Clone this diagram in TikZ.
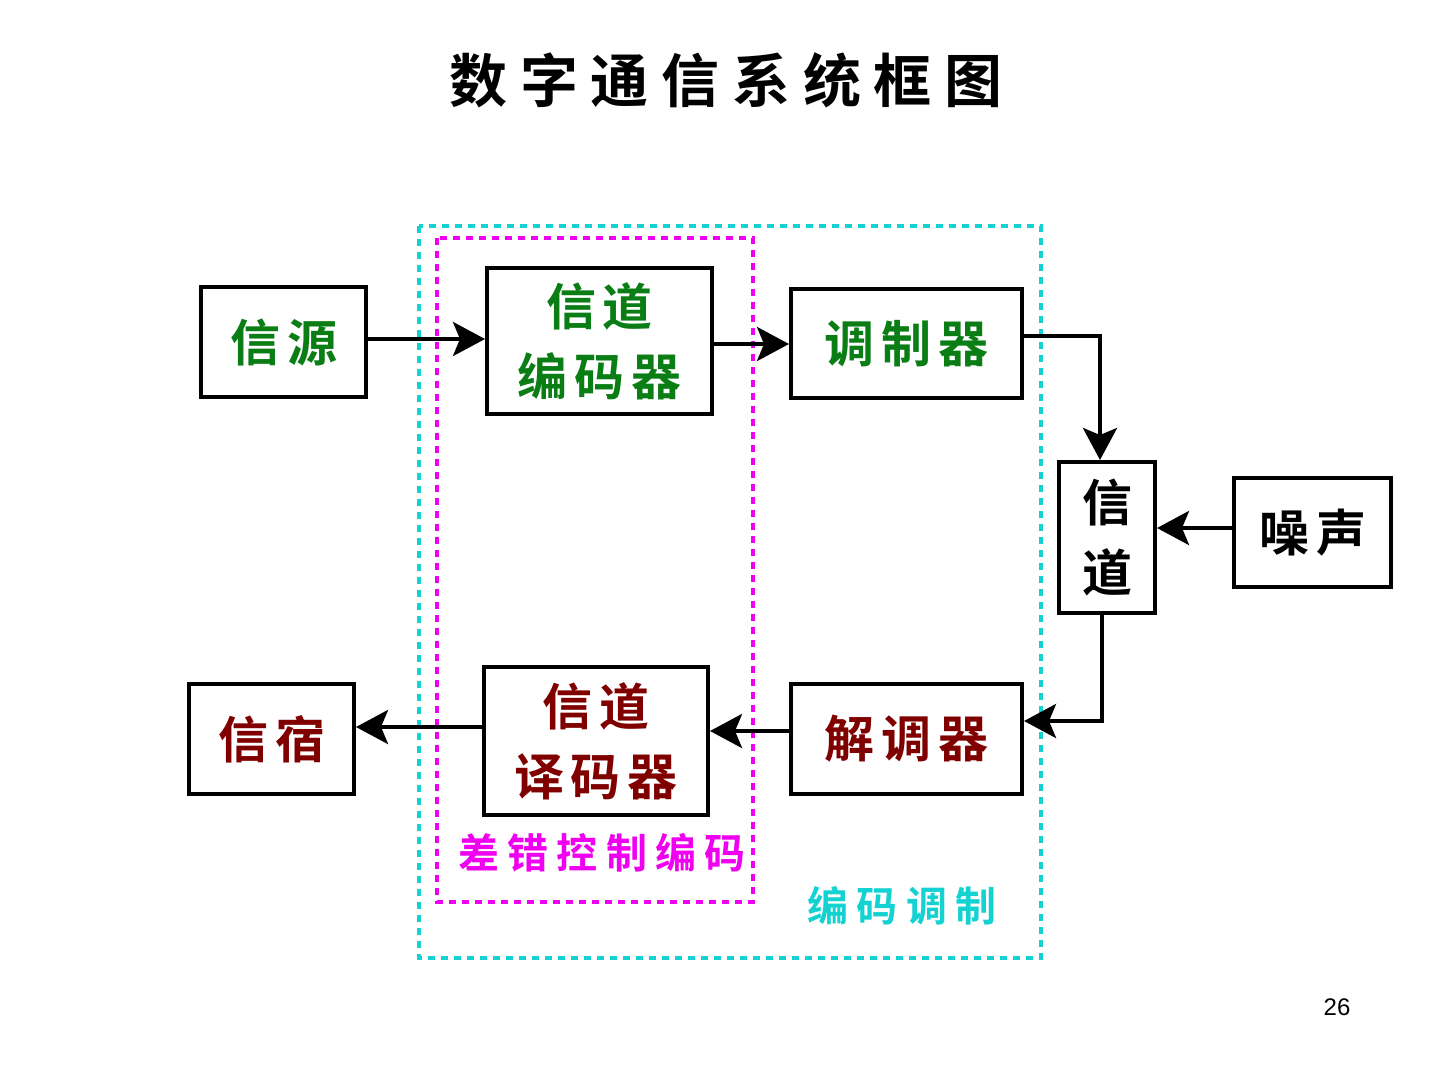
\documentclass[tikz,border=0pt]{standalone}
\usepackage{fontspec}
\usetikzlibrary{arrows.meta}
\newfontfamily\cjkls[LetterSpace=20]{Noto Sans CJK SC Bold}
\newfontfamily\cjkbs[LetterSpace=14]{Noto Sans CJK SC Bold}
\newfontfamily\titlefont[LetterSpace=22]{Noto Sans CJK SC Bold}
\setmainfont{Liberation Sans}
\definecolor{tgreen}{RGB}{10,125,20}
\definecolor{tred}{RGB}{128,0,0}
\definecolor{tcyan}{RGB}{20,210,210}
\definecolor{tmag}{RGB}{240,0,240}
\begin{document}
\begin{tikzpicture}[x=1pt,y=-1pt,
  blk/.style={draw=black,line width=4pt,rectangle,inner sep=0pt,align=center,
    font=\cjkbs\fontsize{50}{70}\selectfont},
  conn/.style={line width=4pt,-{Stealth[length=32pt,width=34pt,inset=7pt]}},
  dashbox/.style={line width=4pt,dash pattern=on 7pt off 6pt},
  grplabel/.style={font=\cjkls\fontsize{41}{44}\selectfont}]
\useasboundingbox (0,0) rectangle (1440,1080);
\fill[white] (0,0) rectangle (1440,1080);

\node[font=\titlefont\fontsize{58}{64}\selectfont] (title) at (726,80) {数字通信系统框图};

% dashed groups
\draw[dashbox,tcyan] (419,226) rectangle (1041,958);
\draw[dashbox,tmag] (437,238) rectangle (753,902);

% blocks
\node[blk,minimum width=165pt,minimum height=110pt,text=tgreen] (src) at (283.5,342) {信源};
\node[blk,minimum width=225pt,minimum height=146pt,text=tgreen] (enc) at (599.5,341) {信道\\编码器};
\node[blk,minimum width=231pt,minimum height=109pt,text=tgreen] (mod) at (906.5,343.5) {调制器};
\node[blk,minimum width=96pt,minimum height=151pt,text=black] (ch) at (1107,537.5) {信\\道};
\node[blk,minimum width=157pt,minimum height=109pt,text=black] (noise) at (1312.5,532.5) {噪声};
\node[blk,minimum width=231pt,minimum height=110pt,text=tred] (dem) at (906.5,739) {解调器};
\node[blk,minimum width=224pt,minimum height=148pt,text=tred] (dec) at (596,741) {信道\\译码器};
\node[blk,minimum width=165pt,minimum height=110pt,text=tred] (sink) at (271.5,739) {信宿};

% labels
\node[grplabel,text=tmag] (lbl1) at (602,853) {差错控制编码};
\node[grplabel,text=tcyan] (lbl2) at (902,906) {编码调制};
\node[font=\fontsize{24}{28}\selectfont] (pg) at (1337,1007) {26};

% connectors
\draw[conn] (src.east |- 0,339) -- (enc.west |- 0,339);
\draw[conn] (enc.east |- 0,344) -- (mod.west |- 0,344);
\coordinate (c1) at (1100,336);
\draw[conn] (mod.east |- c1) -- (c1) -- (c1 |- ch.north);
\draw[conn] (noise.west |- 0,528) -- (ch.east |- 0,528);
\coordinate (c2) at (1102,721);
\draw[conn] (c2 |- ch.south) -- (c2) -- (dem.east |- c2);
\draw[conn] (dem.west |- 0,731) -- (dec.east |- 0,731);
\draw[conn] (dec.west |- 0,727) -- (sink.east |- 0,727);
\end{tikzpicture}
\end{document}
